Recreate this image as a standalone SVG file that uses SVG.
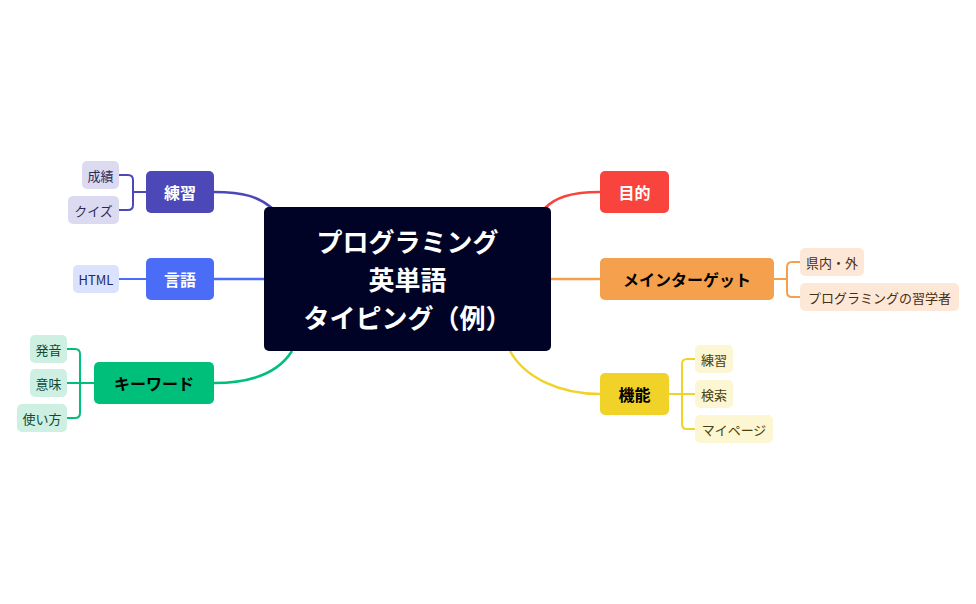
<svg xmlns="http://www.w3.org/2000/svg" width="976" height="604" viewBox="0 0 976 604">
<style>
text{font-family:"Noto Sans CJK JP","Noto Sans",sans-serif;text-anchor:middle;dominant-baseline:central}
.m{font-size:16px;font-weight:bold}
.s{font-size:13px}
.c{fill:none;stroke-width:2.5}
.b{fill:none;stroke-width:2}
</style>
<rect width="976" height="604" fill="#fff"/>
<g id="connectors">
<path class="c" stroke="#4c48b8" d="M214,192 C245,192 258,197 272,208"/>
<path class="c" stroke="#4a6cf7" d="M214,279 H264"/>
<path class="c" stroke="#00bf7a" d="M214,383 C255,383 280,370 292,351"/>
<path class="c" stroke="#f8443d" d="M600,192 C570,192 555,198 545,208"/>
<path class="c" stroke="#f5a04c" d="M551,279 H600"/>
<path class="c" stroke="#f1d228" d="M600,394 C560,394 525,378 510,351"/>
<path class="b" stroke="#4c48b8" d="M119,175 H128 Q133,175 133,180 V205 Q133,210 128,210 H119 M133,192 H146"/>
<path class="b" stroke="#4a6cf7" d="M119,279 H146"/>
<path class="b" stroke="#00bf7a" d="M67,349 H75 Q80,349 80,354 V413 Q80,418 75,418 H67 M67,383 H94"/>
<path class="b" stroke="#f5a04c" d="M774,279 H787 M800,262 H792 Q787,262 787,267 V292 Q787,297 792,297 H800"/>
<path class="b" stroke="#f1d228" d="M669,394 H695 M695,359 H687 Q682,359 682,364 V424 Q682,429 687,429 H695"/>
</g>
<g id="center"><rect x="264" y="207" width="287" height="144" rx="5" fill="#000325"/>
<text x="407.5" y="240" fill="#fff" font-size="26" font-weight="bold">プログラミング</text>
<text x="407.5" y="278" fill="#fff" font-size="26" font-weight="bold">英単語</text>
<text x="407.5" y="316" fill="#fff" font-size="26" font-weight="bold">タイピング（例）</text></g>
<g id="n-renshu"><rect x="146" y="171" width="68" height="42" rx="5" fill="#4c48b8"/><text class="m" x="180" y="192" fill="#fff">練習</text></g>
<g id="n-gengo"><rect x="146" y="258" width="68" height="42" rx="5" fill="#4a6cf7"/><text class="m" x="180" y="279" fill="#fff">言語</text></g>
<g id="n-keyword"><rect x="94" y="362" width="120" height="42" rx="5" fill="#00bf7a"/><text class="m" x="154" y="383" fill="#000">キーワード</text></g>
<g id="n-mokuteki"><rect x="600" y="171" width="69" height="42" rx="5" fill="#f8443d"/><text class="m" x="634.5" y="192" fill="#fff">目的</text></g>
<g id="n-target"><rect x="600" y="258" width="174" height="42" rx="5" fill="#f5a04c"/><text class="m" x="687" y="279" fill="#000">メインターゲット</text></g>
<g id="n-kinou"><rect x="600" y="373" width="69" height="42" rx="5" fill="#f1d228"/><text class="m" x="634.5" y="394" fill="#000">機能</text></g>
<g id="s-seiseki"><rect x="82" y="161" width="37" height="28" rx="5" fill="#dcdaf0"/><text class="s" x="100.5" y="175" fill="#2a2a5a">成績</text></g>
<g id="s-quiz"><rect x="68" y="196" width="51" height="28" rx="5" fill="#dcdaf0"/><text class="s" x="93.5" y="210" fill="#2a2a5a">クイズ</text></g>
<g id="s-html"><rect x="73" y="265" width="46" height="28" rx="5" fill="#dbe2fd"/><text class="s" x="96" y="279" fill="#1e2a60">HTML</text></g>
<g id="s-hatsuon"><rect x="30" y="335" width="37" height="28" rx="5" fill="#cdf0e2"/><text class="s" x="48.5" y="349" fill="#104a34">発音</text></g>
<g id="s-imi"><rect x="30" y="369" width="37" height="28" rx="5" fill="#cdf0e2"/><text class="s" x="48.5" y="383" fill="#104a34">意味</text></g>
<g id="s-tsukaikata"><rect x="17" y="404" width="50" height="28" rx="5" fill="#cdf0e2"/><text class="s" x="42" y="418" fill="#104a34">使い方</text></g>
<g id="s-kennai"><rect x="800" y="248" width="64" height="28" rx="5" fill="#fde8d8"/><text class="s" x="832" y="262" fill="#4a2e10">県内・外</text></g>
<g id="s-gakusha"><rect x="800" y="283" width="159" height="28" rx="5" fill="#fde8d8"/><text class="s" x="879.5" y="297" fill="#4a2e10">プログラミングの習学者</text></g>
<g id="s-renshu2"><rect x="695" y="345" width="38" height="28" rx="5" fill="#fcf6d2"/><text class="s" x="714" y="359" fill="#4a4010">練習</text></g>
<g id="s-kensaku"><rect x="695" y="380" width="38" height="28" rx="5" fill="#fcf6d2"/><text class="s" x="714" y="394" fill="#4a4010">検索</text></g>
<g id="s-mypage"><rect x="695" y="415" width="78" height="28" rx="5" fill="#fcf6d2"/><text class="s" x="734" y="429" fill="#4a4010">マイページ</text></g>
</svg>
